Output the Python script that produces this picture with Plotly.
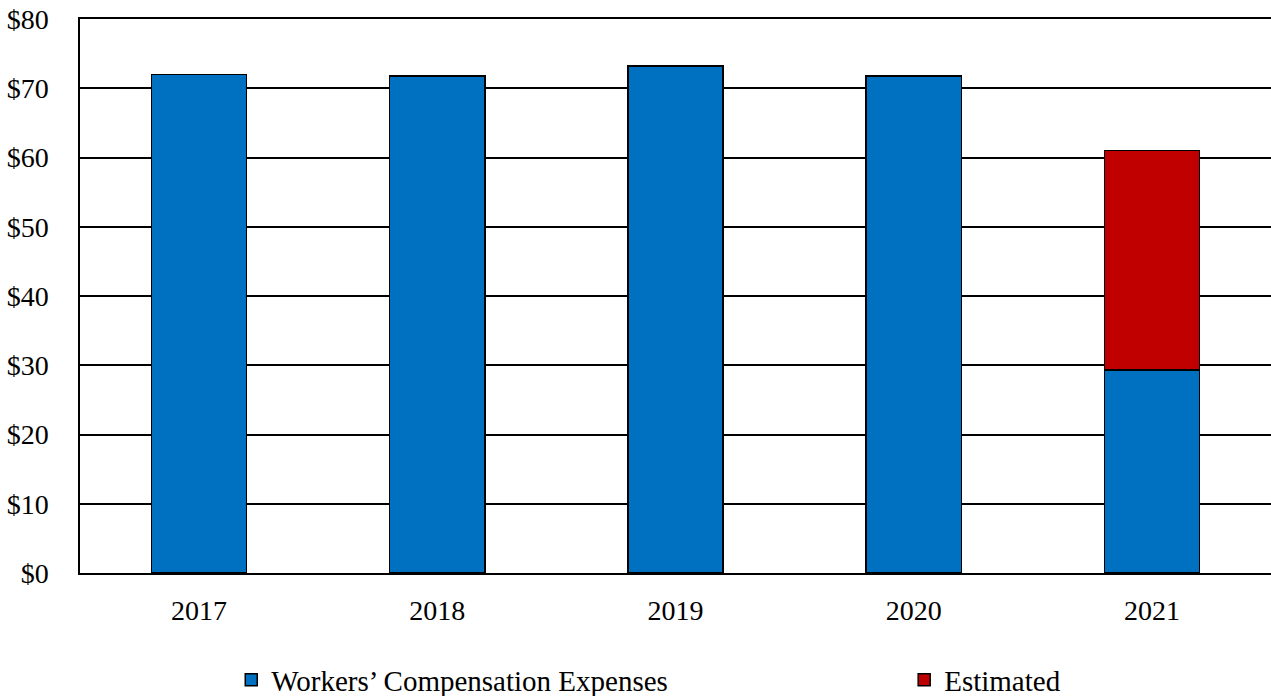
import plotly.graph_objects as go

# Annual values, $ millions
years = ["2017", "2018", "2019", "2020", "2021"]
expenses = [72.0, 71.8, 73.2, 71.8, 29.3]
estimated = [None, None, None, None, 31.7]

y_ticks = [0, 10, 20, 30, 40, 50, 60, 70, 80]
y_tick_labels = ["$" + str(v) for v in y_ticks]

FONT = "Liberation Serif"

fig = go.Figure()
fig.add_trace(go.Bar(
    x=years, y=expenses, name="Workers’ Compensation Expenses",
    marker=dict(color="#0070C0", line=dict(color="black", width=1.5)),
    legend="legend2", showlegend=True,
))
fig.add_trace(go.Bar(
    x=years, y=estimated, name="Estimated",
    marker=dict(color="#C00000", line=dict(color="black", width=1.5)),
    legend="legend3", showlegend=True,
))

legend_common = dict(
    orientation="h", yref="container", y=0.023, yanchor="middle",
    xanchor="left", font=dict(family=FONT, size=29, color="black"),
    bgcolor="rgba(0,0,0,0)", visible=True,
)

fig.update_layout(
    width=1271, height=696,
    margin=dict(l=80, r=0, t=19, b=123, autoexpand=False),
    barmode="stack", bargap=0.6,
    plot_bgcolor="white", paper_bgcolor="white",
    font=dict(family=FONT, size=28, color="black"),
    showlegend=True,
    legend2=dict(x=0.127, **legend_common),
    legend3=dict(x=0.692, **legend_common),
    xaxis=dict(
        showline=True, linecolor="black", linewidth=1.5, mirror=True,
        ticks="outside", ticklen=0, ticklabelstandoff=12,
        showgrid=False, tickfont=dict(family=FONT, size=28),
    ),
    yaxis=dict(
        range=[0, 80], tickvals=y_ticks, ticktext=y_tick_labels,
        showline=True, linecolor="black", linewidth=1.5,
        showgrid=True, gridcolor="black", gridwidth=1.5,
        ticks="outside", ticklen=0, ticklabelstandoff=24,
        zeroline=False, tickfont=dict(family=FONT, size=28),
    ),
)

fig.write_html("out.html")
